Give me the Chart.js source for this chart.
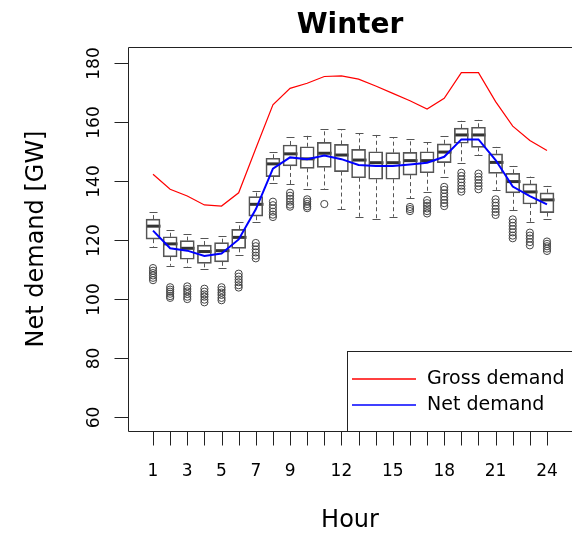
<!DOCTYPE html>
<html>
<head>
<meta charset="utf-8">
<script src="https://cdn.jsdelivr.net/npm/chart.js@4.4.0/dist/chart.umd.min.js"></script>
<style>
  body { margin: 0; background: #fff; }
  canvas { display: block; }
</style>
</head>
<body>
<canvas id="winterChart" width="572" height="538"></canvas>
<script>
// hours 1..24
const hours = [1,2,3,4,5,6,7,8,9,10,11,12,13,14,15,16,17,18,19,20,21,22,23,24];
const hourLabels = [1,3,5,7,9,12,15,18,21,24];
const yTicks = [60,80,100,120,140,160,180];

// box plot stats (GW)
const whiskerHigh = [129.4,123.4,122.1,120.6,121.4,126.0,136.7,149.9,154.8,155.3,157.6,157.6,156.2,155.6,154.8,154.1,153.1,155.2,160.4,160.7,151.6,145.1,141.5,138.4];
const q3          = [127.1,121.1,119.8,118.3,119.1,123.6,134.7,147.7,152.2,151.6,153.1,152.4,150.7,149.9,149.6,149.7,149.9,152.6,157.9,158.2,149.2,142.6,139.0,136.0];
const medians     = [124.7,118.7,117.2,116.1,116.4,120.9,132.1,145.8,149.2,147.5,149.4,148.8,147.1,146.2,146.2,146.9,146.9,149.8,155.6,155.6,146.3,139.8,136.3,133.6];
const q1          = [120.3,114.3,113.5,112.1,112.6,117.2,128.1,141.5,145.1,144.3,144.6,143.2,141.1,140.6,140.6,142.0,142.8,146.2,152.8,151.4,142.6,136.0,132.2,129.3];
const whiskerLow  = [117.7,111.3,111.0,110.1,110.4,114.9,126.2,139.2,139.0,137.2,137.3,130.4,127.9,127.2,127.9,134.1,136.4,141.5,146.0,148.8,137.0,130.2,126.2,127.0];

// outliers per hour
const outliers = [
  [110.5,109.6,108.8,108.0,107.2,106.4],
  [104.0,103.2,102.5,101.8,101.0,100.4],
  [104.3,103.4,102.6,101.7,100.8,100.0],
  [103.5,102.5,101.6,100.8,99.8,98.9],
  [104.0,103.1,102.2,101.4,100.4,99.6],
  [108.6,107.6,106.6,105.7,104.7,103.9],
  [119.0,117.9,116.8,115.8,114.7,113.8],
  [133.0,131.8,130.7,129.6,128.6,127.8],
  [136.0,135.0,134.0,133.0,132.0,131.3],
  [133.8,133.0,132.2,131.4,130.8],
  [132.2],
  [],
  [],
  [],
  [],
  [131.2,130.5,129.8],
  [133.5,132.5,131.6,130.7,129.8,129.0],
  [138.0,137.0,135.8,134.7,133.6,132.5,131.5],
  [142.8,141.7,140.6,139.5,138.4,137.3,136.4],
  [142.5,141.4,140.4,139.3,138.3,137.2],
  [133.8,132.7,131.6,130.5,129.5,128.5],
  [127.0,125.9,124.8,123.7,122.6,121.5,120.6],
  [122.5,121.5,120.5,119.3,118.2],
  [119.5,118.7,117.9,117.1,116.3]
];

// hourly lines
const grossDemand = [142.3,137.2,134.9,131.9,131.5,136.0,151.0,165.8,171.4,173.1,175.4,175.6,174.5,172.2,169.7,167.2,164.4,168.0,176.7,176.7,166.9,158.6,153.7,150.3];
const netDemand   = [123.2,117.2,116.4,114.6,115.4,120.2,130.4,144.2,148.0,147.4,148.6,147.4,145.4,145.1,145.1,145.6,146.2,148.2,154.1,154.1,147.1,138.1,134.9,132.1];

const seriesNames = ["Gross demand", "Net demand"];
const seriesColors = ["#ff0000", "#0000ff"];

const FONT = '"DejaVu Sans", sans-serif';

const outlierPoints = [];
hours.forEach((h, i) => {
  outliers[i].forEach(v => outlierPoints.push({ x: h, y: v }));
});

// whiskers + medians, drawn through the scales
const boxExtras = {
  id: "boxExtras",
  beforeDatasetsDraw(chart) {
    const { ctx, scales: { x, y } } = chart;
    ctx.save();
    hours.forEach((h, i) => {
      const px = Math.round(x.getPixelForValue(h)) + 0.5;
      ctx.strokeStyle = "#555";
      ctx.lineWidth = 1;
      ctx.setLineDash([4, 3]);
      ctx.beginPath();
      ctx.moveTo(px, y.getPixelForValue(q3[i]));
      ctx.lineTo(px, y.getPixelForValue(whiskerHigh[i]));
      ctx.moveTo(px, y.getPixelForValue(q1[i]));
      ctx.lineTo(px, y.getPixelForValue(whiskerLow[i]));
      ctx.stroke();
      ctx.setLineDash([]);
      ctx.beginPath();
      [whiskerHigh[i], whiskerLow[i]].forEach(v => {
        const py = Math.round(y.getPixelForValue(v)) + 0.5;
        ctx.moveTo(px - 4, py);
        ctx.lineTo(px + 4, py);
      });
      ctx.stroke();
      // median
      ctx.strokeStyle = "#333";
      ctx.lineWidth = 3;
      ctx.beginPath();
      const my = y.getPixelForValue(medians[i]);
      ctx.moveTo(px - 7, my);
      ctx.lineTo(px + 7, my);
      ctx.stroke();
    });
    ctx.restore();
  }
};

// R style frame, axes, title and legend
const frame = {
  id: "frame",
  afterDraw(chart) {
    const { ctx, chartArea: a, scales: { x, y } } = chart;
    const R = chart.width + 2;
    ctx.save();
    ctx.strokeStyle = "#222";
    ctx.lineWidth = 1;
    const L = Math.round(a.left) + 0.5, T = Math.round(a.top) + 0.5, B = Math.round(a.bottom) + 0.5;
    ctx.beginPath();
    ctx.moveTo(R, T); ctx.lineTo(L, T); ctx.lineTo(L, B); ctx.lineTo(R, B);
    ctx.stroke();

    // y axis
    ctx.fillStyle = "#000";
    ctx.font = "17px " + FONT;
    ctx.textAlign = "center";
    ctx.textBaseline = "middle";
    yTicks.forEach(v => {
      const py = Math.round(y.getPixelForValue(v)) + 0.5;
      ctx.beginPath();
      ctx.moveTo(L - 14, py); ctx.lineTo(L, py);
      ctx.stroke();
      ctx.save();
      ctx.translate(L - 34, py);
      ctx.rotate(-Math.PI / 2);
      ctx.fillText(String(v), 0, 0);
      ctx.restore();
    });

    // x axis
    ctx.beginPath();
    ctx.moveTo(x.getPixelForValue(hours[0]), B);
    ctx.lineTo(x.getPixelForValue(hours[hours.length - 1]), B);
    hours.forEach(h => {
      const px = Math.round(x.getPixelForValue(h)) + 0.5;
      ctx.moveTo(px, B); ctx.lineTo(px, B + 14);
    });
    ctx.stroke();
    hourLabels.forEach(h => {
      ctx.fillText(String(h), x.getPixelForValue(h), B + 40);
    });

    // axis titles
    ctx.font = "24px " + FONT;
    ctx.fillText("Hour", (a.left + a.right) / 2, 521);
    ctx.save();
    ctx.translate(37, (a.top + a.bottom) / 2);
    ctx.rotate(-Math.PI / 2);
    ctx.fillText("Net demand [GW]", 0, 0);
    ctx.restore();

    // title
    ctx.font = "bold 28px " + FONT;
    ctx.textBaseline = "alphabetic";
    ctx.fillText("Winter", (a.left + a.right) / 2, 33);

    // legend (bottom right)
    const lx = 347.5, ly = 351.5;
    ctx.fillStyle = "#fff";
    ctx.fillRect(lx, ly, R - lx, B - ly);
    ctx.strokeStyle = "#222";
    ctx.strokeRect(lx, ly, R - lx, B - ly);
    ctx.font = "19px " + FONT;
    ctx.textAlign = "left";
    ctx.textBaseline = "middle";
    seriesNames.forEach((name, k) => {
      const yy = 379 + k * 26;
      ctx.strokeStyle = seriesColors[k];
      ctx.lineWidth = 1.6;
      ctx.beginPath();
      ctx.moveTo(352, yy); ctx.lineTo(416, yy);
      ctx.stroke();
      ctx.fillStyle = "#000";
      ctx.fillText(name, 427, yy);
    });
    ctx.restore();
  }
};

new Chart(document.getElementById("winterChart"), {
  type: "bar",
  data: {
    datasets: [
      {
        type: "bar",
        label: "boxes",
        data: hours.map((h, i) => ({ x: h, y: [q1[i], q3[i]] })),
        backgroundColor: "rgba(255,255,255,0)",
        borderColor: "#555",
        borderWidth: 1,
        borderSkipped: false,
        barThickness: 14,
        order: 3
      },
      {
        type: "scatter",
        label: "outliers",
        data: outlierPoints,
        pointStyle: "circle",
        pointRadius: 3.6,
        backgroundColor: "rgba(255,255,255,0)",
        borderColor: "#444",
        borderWidth: 1,
        order: 2
      },
      {
        type: "line",
        label: seriesNames[0],
        data: hours.map((h, i) => ({ x: h, y: grossDemand[i] })),
        borderColor: seriesColors[0],
        borderWidth: 1.2,
        pointRadius: 0,
        tension: 0,
        order: 1
      },
      {
        type: "line",
        label: seriesNames[1],
        data: hours.map((h, i) => ({ x: h, y: netDemand[i] })),
        borderColor: seriesColors[1],
        borderWidth: 2,
        pointRadius: 0,
        tension: 0,
        order: 0
      }
    ]
  },
  options: {
    responsive: false,
    animation: false,
    devicePixelRatio: 1,
    layout: { autoPadding: false, padding: { left: 128, top: 47, right: 0, bottom: 107 } },
    scales: {
      x: { type: "linear", min: -0.46, max: 25.46, offset: false, display: false },
      y: { type: "linear", min: 55.3, max: 185.4, display: false }
    },
    plugins: {
      legend: { display: false },
      tooltip: { enabled: false },
      title: { display: false }
    }
  },
  plugins: [boxExtras, frame]
});
</script>
</body>
</html>
